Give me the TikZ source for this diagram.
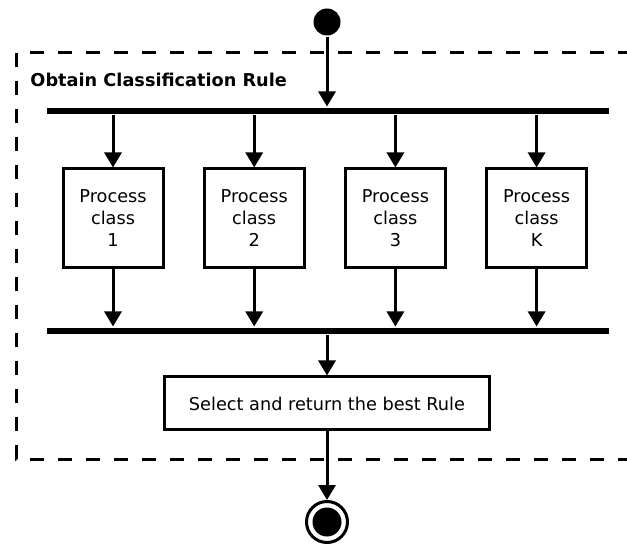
\documentclass[tikz,border=0pt]{standalone}
\usepackage{fontspec}
\setmainfont{DejaVu Sans}
\usetikzlibrary{arrows.meta}
\usetikzlibrary{positioning}

\begin{document}
\begin{tikzpicture}[x=1pt,y=-1pt,line width=3pt,
  flow/.style={-{Triangle[width=17pt,length=15pt]}},
  activity/.style={draw,rectangle,inner sep=0pt,align=center,
    minimum width=100pt,minimum height=99pt,
    font=\fontsize{17.7}{22}\selectfont},
  bar/.style={fill,rectangle,inner sep=0pt,minimum width=562pt,minimum height=6pt},
  region/.style={dash pattern=on 14pt off 14pt}]
  \useasboundingbox (0,0) rectangle (627,545);

  \begin{scope}
    \clip (0,0) rectangle (627,545);
    \draw[region] (16,53) rectangle (660,459);
  \end{scope}
  \node (title) [anchor=base west,inner sep=0pt,font=\fontsize{17.7}{22}\selectfont\bfseries]
    at (29,87) {Obtain Classification Rule};

  \node (start) [circle,fill,inner sep=0pt,minimum size=27pt] at (327,22) {};
  \node (fork) [bar] at (328,111) {};
  \node (join) [bar] at (328,331) {};

  \foreach \i/\k in {1/1,2/2,3/3,4/K}
    \node (p\i) [activity] at ({113+141.2*(\i-1)},218.5) {Process\\class\\\k};

  \node (select) [activity,minimum width=325pt,minimum height=53pt]
    at (327,403.5) {Select and return the best Rule};

  \node (end) [circle,draw,inner sep=0pt,minimum size=41pt] at (327,522) {};
  \node (enddot) [circle,fill,inner sep=0pt,minimum size=29pt] at (end) {};

  \draw[flow] (start) -- (start |- fork.north);
  \foreach \i in {1,...,4} {
    \draw[flow] (fork.south -| p\i) -- (p\i);
    \draw[flow] (p\i) -- (p\i |- join.north);
  }
  \draw[flow] (select |- join.south) -- (select);
  \draw[flow] (select) -- (end);
\end{tikzpicture}
\end{document}
